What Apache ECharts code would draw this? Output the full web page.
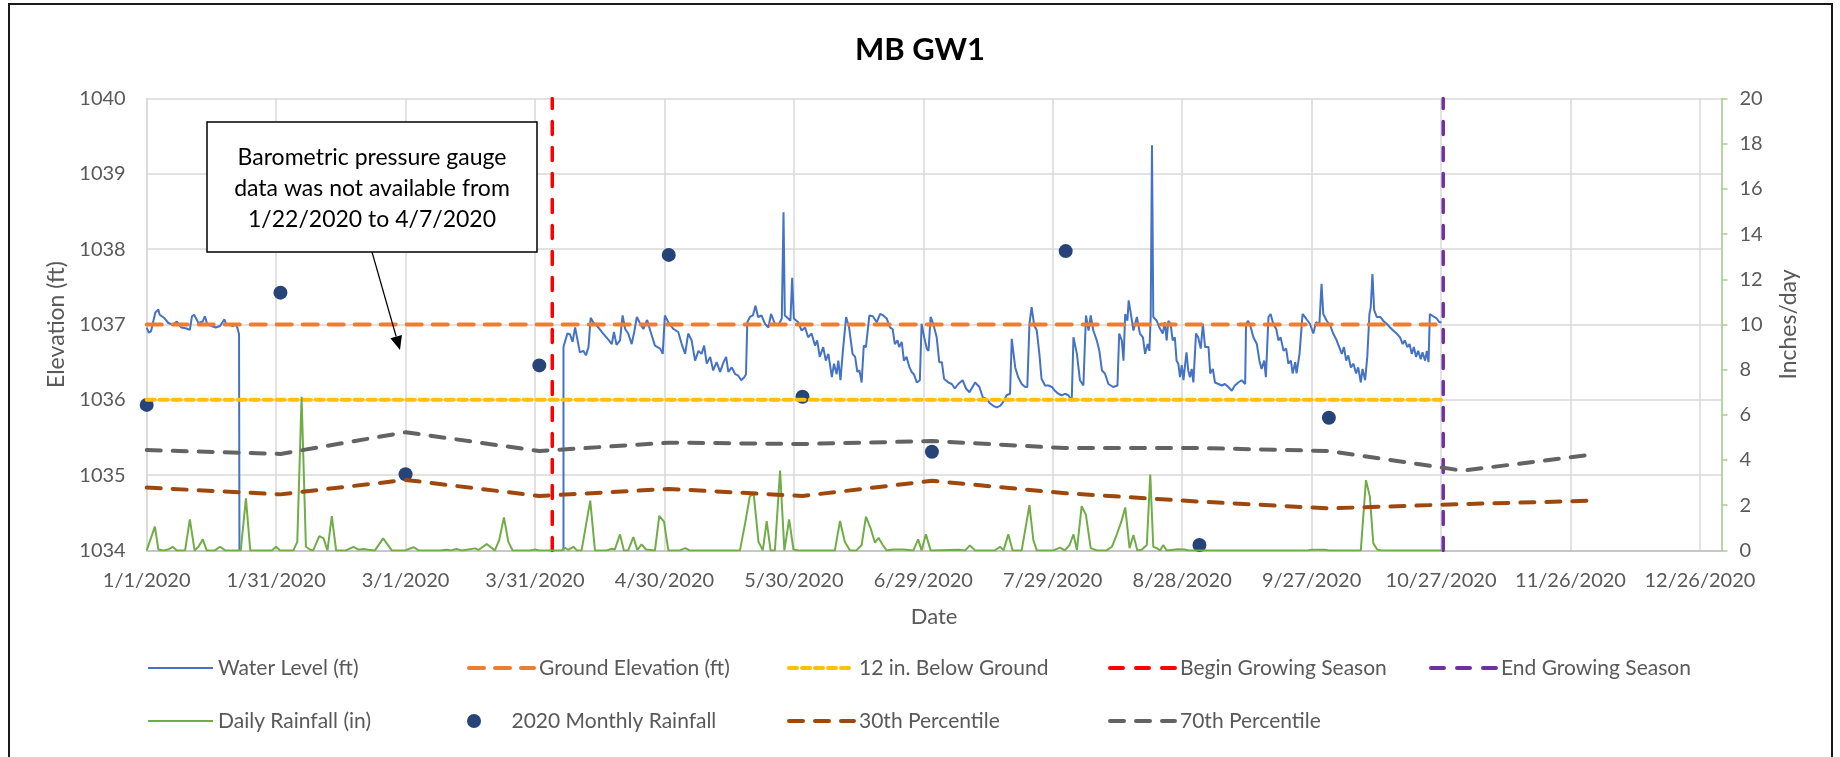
<!DOCTYPE html>
<html>
<head>
<meta charset="utf-8">
<title>MB GW1</title>
<script src="https://cdn.jsdelivr.net/npm/echarts@6/dist/echarts.min.js"></script>
<style>
html,body{margin:0;padding:0;background:#fff;}
#main{width:1840px;height:757px;}
</style>
</head>
<body>
<div id="main"></div>
<script>
// x values are days counted from 1/1/2020
var tickLabels = ['1/1/2020','1/31/2020','3/1/2020','3/31/2020','4/30/2020','5/30/2020','6/29/2020',
	'7/29/2020','8/28/2020','9/27/2020','10/27/2020','11/26/2020','12/26/2020'];

// first day of each month
var monthDays = [0,31,60,91,121,152,182,213,244,274,305,335];
// inches, right axis
var monthlyRain = [6.44,11.41,3.37,8.19,13.08,6.80,4.37,13.25,0.24,5.87];
var pct30 = [2.78,2.48,3.12,2.41,2.72,2.41,3.08,2.53,2.16,1.86,2.05,2.20];
var pct70 = [4.44,4.27,5.23,4.40,4.77,4.71,4.84,4.53,4.53,4.40,3.53,4.24];

// reference lines (ft)
var groundLine = [[0,1037],[300,1037]];
var belowLine = [[0,1036],[300,1036]];
var beginLine = [[94,1034],[94,1040]];
var endLine = [[300.5,1034],[300.5,1040]];

// water level (ft), gap while barometric data was missing
var waterLevel = [
	[0,1036.96],[0.5,1036.89],[1,1036.91],[2,1037.16],[2.7,1037.2],[3,1037.13],[4,1037.09],[5,1037.02],
	[6,1037.0],[7,1037.04],[8,1036.96],[9,1036.95],[10,1036.93],[10.5,1037.11],[11,1037.13],[12,1037.02],
	[13,1037.04],[13.5,1037.11],[14,1037.01],[15,1036.98],[16,1036.96],[17,1036.98],[18,1037.07],[18.5,1036.99],
	[19,1037.0],[20,1036.98],[20.5,1037.01],[21,1036.96],[21.4,1036.87],[21.5,1034],
	[50,null],
	[96.6,1034],[96.6,1036.7],[96.9,1036.72],[97.5,1036.88],[98.1,1036.87],[98.7,1036.77],[99.3,1036.96],
	[99.8,1036.81],[100.4,1036.63],[101.2,1036.65],[101.8,1036.59],[102.4,1036.7],[102.9,1037.09],[103.5,1037.03],
	[104.7,1036.96],[105.8,1036.88],[107,1036.8],[107.8,1036.74],[108.3,1036.9],[108.9,1036.73],[109.7,1036.79],
	[110.3,1037.12],[110.9,1036.94],[111.6,1036.88],[112.4,1036.74],[113,1036.9],[113.6,1037.1],[114.3,1037.02],
	[115.1,1036.94],[116,1037.06],[116.7,1036.92],[117.8,1036.72],[119,1036.68],[119.6,1036.61],[120.1,1037.12],
	[120.9,1037.03],[122.1,1036.94],[123.2,1036.9],[124,1036.74],[124.8,1036.61],[125.5,1036.88],[126.3,1036.79],
	[127.1,1036.52],[127.9,1036.65],[128.6,1036.61],[129.2,1036.72],[129.8,1036.48],[130.6,1036.57],[131.3,1036.39],
	[132.1,1036.5],[132.9,1036.37],[133.7,1036.5],[134.3,1036.57],[134.8,1036.37],[135.6,1036.43],[136.4,1036.34],
	[137.1,1036.32],[137.8,1036.26],[138.5,1036.3],[138.9,1036.34],[139.2,1037.03],[139.8,1037.1],[140.5,1037.12],
	[141.1,1037.25],[141.7,1037.1],[142.5,1037.12],[143.3,1037.01],[144.1,1036.96],[144.7,1037.14],[145.6,1037.01],
	[146.4,1036.99],[147.2,1037.08],[147.6,1038.49],[147.9,1037.12],[148.7,1037.08],[149.2,1037.05],[149.6,1037.62],
	[150,1037.08],[151,1037.03],[151.8,1036.92],[152.6,1036.96],[153.3,1036.83],[154.1,1036.88],[154.9,1036.72],
	[155.4,1036.79],[156,1036.57],[156.8,1036.7],[157.4,1036.52],[158,1036.61],[158.8,1036.3],[159.3,1036.48],
	[159.9,1036.34],[160.3,1036.52],[160.8,1036.26],[161.3,1036.61],[162.1,1037.1],[162.8,1036.96],[163.6,1036.61],
	[164.2,1036.57],[164.7,1036.37],[165.2,1036.39],[165.7,1036.23],[166.2,1036.72],[166.7,1036.7],[167.5,1037.12],
	[168.3,1037.11],[169.2,1037.03],[170,1037.14],[170.7,1037.12],[171.5,1037.08],[172.3,1036.96],[172.9,1036.94],
	[173.4,1036.74],[174,1036.79],[174.4,1036.7],[175,1036.77],[175.5,1036.52],[176.1,1036.57],[176.8,1036.43],
	[177.3,1036.37],[177.8,1036.34],[178.5,1036.23],[179.2,1036.26],[179.6,1037.01],[180.2,1036.83],[180.8,1036.68],
	[181.2,1036.65],[181.7,1037.1],[182.3,1037.01],[183.1,1036.83],[183.7,1036.5],[184.3,1036.5],[184.8,1036.28],
	[185.8,1036.23],[186.6,1036.21],[187.3,1036.15],[188.1,1036.21],[189.1,1036.26],[189.9,1036.15],[190.7,1036.1],
	[191.4,1036.17],[192,1036.23],[193,1036.17],[193.8,1036.03],[194.7,1036.01],[195.5,1035.95],[196.2,1035.92],
	[197,1035.9],[197.8,1035.92],[198.5,1035.97],[199.3,1036.06],[200.1,1036.08],[200.5,1036.81],[201.3,1036.43],
	[202,1036.3],[202.8,1036.21],[203.6,1036.17],[204.1,1036.17],[204.6,1037.01],[205.1,1037.23],[205.7,1036.99],
	[206.3,1036.92],[206.9,1036.61],[207.4,1036.28],[208.2,1036.19],[209,1036.19],[209.8,1036.17],[210.5,1036.12],
	[211.3,1036.08],[212.1,1036.06],[212.8,1036.08],[213.6,1036.06],[214.4,1035.99],[214.8,1036.83],[215.6,1036.61],
	[216.3,1036.26],[217.1,1036.19],[217.7,1037.12],[218.3,1036.92],[218.8,1037.12],[219.4,1036.92],[220.2,1036.79],
	[220.8,1036.65],[221.4,1036.39],[222.1,1036.35],[222.9,1036.21],[224,1036.17],[225,1036.19],[225.4,1036.88],
	[226,1036.79],[226.4,1036.52],[226.8,1037.14],[227.3,1037.05],[227.6,1037.32],[228.1,1037.14],[228.7,1036.92],
	[229.5,1037.1],[230.2,1036.88],[230.9,1036.83],[231.4,1036.61],[232,1036.74],[232.4,1036.65],[232.7,1037.1],
	[233,1039.38],[233.3,1037.1],[234.1,1037.05],[234.7,1036.96],[235.5,1036.88],[236,1037.03],[236.4,1036.79],
	[236.8,1037.05],[237.3,1037.01],[237.8,1036.79],[238.3,1036.83],[238.7,1036.52],[239.1,1036.48],[239.5,1036.3],
	[239.9,1036.46],[240.3,1036.26],[240.7,1036.48],[241,1036.63],[241.4,1036.39],[241.8,1036.3],[242.2,1036.41],
	[242.6,1036.23],[243.2,1036.88],[243.7,1036.83],[244.3,1036.68],[244.8,1037.01],[245.3,1036.7],[246.1,1036.7],
	[246.5,1036.35],[247.1,1036.41],[247.6,1036.23],[248.4,1036.21],[249.2,1036.19],[249.9,1036.21],[250.7,1036.17],
	[251.5,1036.12],[252.2,1036.19],[253,1036.23],[253.8,1036.26],[254.6,1036.21],[254.8,1037.01],[255.3,1037.05],
	[255.9,1036.96],[256.5,1036.83],[257.3,1036.74],[257.9,1036.52],[258.4,1036.41],[259,1036.52],[259.4,1036.3],
	[260,1037.1],[260.5,1037.14],[261.1,1037.01],[261.8,1036.94],[262.3,1036.79],[262.8,1036.83],[263.5,1036.65],
	[264.1,1036.68],[264.6,1036.48],[265.2,1036.52],[265.6,1036.35],[266.2,1036.5],[266.5,1036.35],[267.2,1036.61],
	[267.9,1037.14],[268.7,1037.08],[269.6,1037.01],[270.4,1036.88],[271,1037.03],[271.8,1037.01],[272.3,1037.54],
	[272.7,1037.14],[273.5,1037.05],[274.3,1036.99],[275,1036.88],[275.8,1036.79],[276.4,1036.7],[277,1036.61],
	[277.5,1036.7],[278,1036.52],[278.5,1036.59],[279.1,1036.43],[279.7,1036.48],[280.3,1036.35],[280.8,1036.43],
	[281.4,1036.23],[281.8,1036.41],[282.4,1036.26],[282.9,1036.57],[283.4,1037.14],[283.7,1037.23],[284.1,1037.67],
	[284.5,1037.19],[285.1,1037.1],[285.9,1037.1],[286.6,1037.05],[287.4,1037.01],[288.2,1036.96],[288.9,1036.92],
	[289.7,1036.88],[290.5,1036.83],[291.1,1036.74],[291.6,1036.79],[292.2,1036.7],[292.7,1036.74],[293.2,1036.61],
	[293.7,1036.7],[294.2,1036.57],[294.7,1036.65],[295.3,1036.54],[295.7,1036.63],[296.3,1036.52],[296.7,1036.65],
	[297.1,1036.5],[297.4,1037.14],[297.8,1037.16],[298.4,1037.1],[299,1037.08],[299.6,1037.03],[300.1,1037.03]
];

// daily rainfall (in), right axis
var dailyRain = [
	[0,0],[1.9,1.05],[2.7,0.04],[3.9,0],[5,0.04],[6,0.16],[7,0],[8.9,0],[10,1.37],[11.1,0],[12,0.16],[13,0.49],
	[13.9,0],[15.8,0],[17,0.16],[18.2,0],[21.8,0],[23,2.3],[24,0],[29,0],[30,0.16],[30.9,0],[34,0],[34.9,0.38],
	[35.9,6.8],[36.9,0.16],[37.9,0.03],[38.6,0],[40,0.63],[41,0.53],[41.9,0],[42.9,1.52],[43.9,0],[46.2,0],
	[47.9,0.16],[49.1,0.03],[50.2,0.06],[51.4,0.03],[52.9,0],[54.8,0.53],[56.8,0],[59.9,0],[61.9,0.14],[63,0],
	[68,0],[69.5,0.03],[70.5,0],[71.8,0.06],[73,0],[76.1,0.09],[76.9,0.02],[78.8,0.28],[80.7,0],[81.7,0.46],
	[82.8,1.46],[83.8,0.39],[84.8,0],[88.9,0],[90,0.04],[91,0],[96.2,0],[97,0.12],[97.7,0.02],[98.9,0.16],
	[99.7,0],[100.8,0],[102.8,2.2],[103.9,0],[106.6,0],[107.8,0.07],[108.5,0.04],[109.7,0.71],[110.6,0],[111.6,0],
	[112.8,0.59],[113.7,0.02],[114.7,0.27],[115.7,0.04],[117.8,0],[118.8,1.53],[119.9,1.27],[120.9,0],[123.6,0],
	[124.8,0.1],[125.8,0],[137.5,0],[138.7,1.2],[139.8,2.4],[140.7,2.48],[141.8,0.38],[142.8,0],[143.7,1.3],
	[144.6,0],[145.6,0],[146.8,3.53],[147.8,0],[148.9,1.37],[149.9,0.04],[151,0],[159.5,0],[160.7,1.3],[161.8,0.38],
	[163,0],[164.5,0],[165.7,0.24],[166.7,1.49],[167.8,0.97],[168.8,0.34],[169.6,0.56],[170.6,0.24],[171.5,0],
	[173,0.04],[175.4,0.04],[177.7,0],[178.8,0.49],[179.6,0],[180.6,0.71],[181.7,0],[188.1,0.03],[189.7,0],
	[190.8,0.22],[192,0],[196.6,0],[197.8,0.16],[198.6,0],[199.7,0.71],[200.7,0],[202.8,0],[204.6,2.0],[205.5,0.46],
	[206.3,0],[210.1,0],[211.7,0.12],[212.8,0],[213.9,0.24],[214.8,0.71],[215.6,0.02],[216.7,1.96],[217.7,1.56],
	[218.8,0.1],[220.2,0],[222.5,0],[223.7,0.16],[224.8,0.68],[226,1.34],[226.8,1.9],[227.8,0.1],[228.7,0.68],
	[229.6,0],[230.6,0.03],[231.8,0.24],[232.6,3.36],[233.3,0.16],[234.1,0.1],[234.9,0],[235.6,0.24],[236.4,0],
	[239,0.05],[240.5,0.04],[241.5,0],[269,0],[270,0.03],[273,0.03],[274,0],[281.4,0],[281.8,1.05],[282.6,3.11],
	[283.5,2.38],[284.3,0.31],[285.2,0.04],[286.2,0],[300,0]
];

var FONT = 'Lato';
var GREY = '#595959';

function byMonth(vals){
	var out = [];
	for(var i=0;i<vals.length;i++){
		out.push([monthDays[i], vals[i]]);
	}
	return out;
}

// one legend per slot so the columns line up like the original
function legendAt(name, left, top, lineWidth){
	var lg = {
		data:[name], left:left, top:top, padding:0,
		itemWidth:65, itemHeight:14, selectedMode:false,
		textStyle:{fontFamily:FONT, fontSize:21, color:GREY}
	};
	if(lineWidth){
		// line only, no dot in the middle
		lg.lineStyle = {width:lineWidth};
		lg.itemStyle = {opacity:0};
	}
	return lg;
}

function dashLine(name, data, color, dash, width, yIndex){
	return {
		name:name, type:'line', data:data, yAxisIndex:yIndex || 0,
		symbol:'none', silent:true,
		lineStyle:{color:color, width:width, type:dash, cap:'round'},
		itemStyle:{color:color}
	};
}

var chart = echarts.init(document.getElementById('main'));

// note box + arrow
var tip = [400,350], tail = [372,252];
var dx = tip[0]-tail[0], dy = tip[1]-tail[1], len = Math.sqrt(dx*dx+dy*dy);
var ux = dx/len, uy = dy/len;
var bx = tip[0]-14*ux, by = tip[1]-14*uy;

var row1 = 657.5, row2 = 710.5;

var option = {
	animation:false,
	backgroundColor:'#fff',
	title:{
		text:'MB GW1', left:'center', top:29,
		textStyle:{fontFamily:FONT, fontSize:31, fontWeight:'bold', color:'#000'}
	},
	legend:[
		legendAt('Water Level (ft)',147,row1,2),
		legendAt('Ground Elevation (ft)',467,row1,4),
		legendAt('12 in. Below Ground',787,row1,4),
		legendAt('Begin Growing Season',1108,row1,4),
		legendAt('End Growing Season',1429,row1,4),
		legendAt('Daily Rainfall (in)',147,row2,2),
		legendAt('2020 Monthly Rainfall',467,row2,0),
		legendAt('30th Percentile',787,row2,4),
		legendAt('70th Percentile',1108,row2,4)
	],
	grid:{left:146.7, right:118.5, top:98.6, bottom:206.6},
	xAxis:{
		type:'value', min:0, max:365, interval:30,
		name:'Date', nameLocation:'middle', nameGap:56,
		nameTextStyle:{fontFamily:FONT, fontSize:22, color:GREY},
		axisLine:{show:true, lineStyle:{color:'#bfbfbf', width:1.5}},
		axisTick:{show:false},
		axisLabel:{
			fontFamily:FONT, fontSize:20, color:GREY, margin:20,
			formatter:function(v){
				var i = v/30;
				return (i === Math.floor(i) && tickLabels[i]) ? tickLabels[i] : '';
			}
		},
		splitLine:{show:true, lineStyle:{color:'#d9d9d9', width:1.5}}
	},
	yAxis:[{
		type:'value', min:1034, max:1040, interval:1, position:'left',
		name:'Elevation (ft)', nameLocation:'middle', nameGap:71,
		nameTextStyle:{fontFamily:FONT, fontSize:23, color:GREY},
		axisLine:{show:true, lineStyle:{color:'#d9d9d9', width:1.5}},
		axisTick:{show:false},
		axisLabel:{fontFamily:FONT, fontSize:20, color:GREY, margin:21,
			formatter:function(v){ return String(v); }},
		splitLine:{show:true, lineStyle:{color:'#d9d9d9', width:1.5}}
	},{
		type:'value', min:0, max:20, interval:2, position:'right',
		name:'Inches/day', nameLocation:'middle', nameGap:56,
		nameTextStyle:{fontFamily:FONT, fontSize:23, color:GREY},
		axisLine:{show:true, lineStyle:{color:'#a9d18e', width:1.5}},
		axisTick:{show:true, length:6, lineStyle:{color:'#a9d18e', width:1.5}},
		axisLabel:{fontFamily:FONT, fontSize:20, color:GREY, margin:18},
		splitLine:{show:false}
	}],
	series:[
		{
			name:'Water Level (ft)', type:'line', data:waterLevel, symbol:'none', silent:true,
			lineStyle:{color:'#4472c4', width:2}, itemStyle:{color:'#4472c4'}
		},
		dashLine('Ground Elevation (ft)', groundLine, '#ed7d31', [15,11], 4),
		dashLine('12 in. Below Ground', belowLine, '#ffc000', [8,5], 4),
		dashLine('Begin Growing Season', beginLine, '#ff0000', [13,13], 3.5),
		dashLine('End Growing Season', endLine, '#7030a0', [13,13], 3.5),
		{
			name:'Daily Rainfall (in)', type:'line', yAxisIndex:1, data:dailyRain, symbol:'none', silent:true,
			lineStyle:{color:'#70ad47', width:2}, itemStyle:{color:'#70ad47'}
		},
		{
			name:'2020 Monthly Rainfall', type:'scatter', yAxisIndex:1, data:byMonth(monthlyRain),
			symbol:'circle', symbolSize:14, symbolKeepAspect:true, silent:true,
			itemStyle:{color:'#264478', opacity:1}
		},
		dashLine('30th Percentile', byMonth(pct30), '#9e480e', [14,12], 4, 1),
		dashLine('70th Percentile', byMonth(pct70), '#636363', [14,12], 4, 1)
	],
	graphic:[
		{type:'rect', z:100, silent:true,
			shape:{x:9, y:4, width:1823, height:800},
			style:{fill:'none', stroke:'#1a1a1a', lineWidth:2}},
		{type:'rect', z:100, silent:true,
			shape:{x:207, y:122, width:330, height:130},
			style:{fill:'#fff', stroke:'#000', lineWidth:1.5}},
		{type:'text', z:101, silent:true, x:372, y:189,
			style:{text:'Barometric pressure gauge\ndata was not available from\n1/22/2020 to 4/7/2020',
				font:'23px Lato', fill:'#000', align:'center', verticalAlign:'middle', lineHeight:31}},
		{type:'line', z:101, silent:true,
			shape:{x1:tail[0], y1:tail[1], x2:bx, y2:by},
			style:{stroke:'#000', lineWidth:1.2}},
		{type:'polygon', z:101, silent:true,
			shape:{points:[tip, [bx-6*uy, by+6*ux], [bx+6*uy, by-6*ux]]},
			style:{fill:'#000'}}
	]
};
chart.setOption(option);
</script>
</body>
</html>
